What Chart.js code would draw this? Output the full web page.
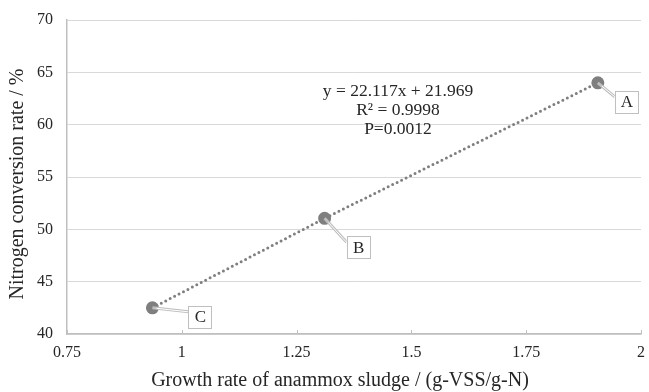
<!DOCTYPE html>
<html>
<head>
<meta charset="utf-8">
<script src="https://cdn.jsdelivr.net/npm/chart.js@4/dist/chart.umd.min.js"></script>
<style>
  html, body { margin: 0; padding: 0; background: #fff; }
  #wrap { width: 649px; height: 392px; }
</style>
</head>
<body>
<div id="wrap"><canvas id="chart" width="649" height="392"></canvas></div>
<script>
/* data */
const sampleLabels = ["C", "B", "A"];
const growthRate   = [0.936, 1.311, 1.906];
const conversion   = [42.5, 51.05, 64.0];
const equationText = ["y = 22.117x + 21.969", "R\u00b2 = 0.9998", "P=0.0012"];
const xTitle = "Growth rate of anammox sludge / (g-VSS/g-N)";
const yTitle = "Nitrogen conversion rate / %";

/* label boxes: offset of each box from its point (px) */
const boxOffsets = { A: [17, 8], B: [22, 18], C: [36, -2] };

const FONT = "'Liberation Serif', 'Times New Roman', serif";
const TEXT = "#262626";

const points = growthRate.map((x, i) => ({ x: x, y: conversion[i] }));

/* -------------------------------
   Annotations: labels, equation, titles, inner ticks
--------------------------------*/
const annotate = {
    id: "annotate",
    afterDatasetsDraw(chart) {
        const ctx = chart.ctx;
        const xs = chart.scales.x, ys = chart.scales.y;
        ctx.save();

        // inward tick marks on x axis
        ctx.strokeStyle = "#bfbfbf";
        ctx.lineWidth = 1;
        xs.ticks.forEach(t => {
            const px = Math.round(xs.getPixelForValue(t.value)) + 0.5;
            ctx.beginPath();
            ctx.moveTo(px, ys.bottom);
            ctx.lineTo(px, ys.bottom - 4);
            ctx.stroke();
        });

        // point labels with leader lines
        ctx.font = "17px " + FONT;
        ctx.textAlign = "center";
        ctx.textBaseline = "middle";
        points.forEach((p, i) => {
            const name = sampleLabels[i];
            const px = xs.getPixelForValue(p.x);
            const py = ys.getPixelForValue(p.y);
            const off = boxOffsets[name];
            const bx = px + off[0], by = py + off[1];
            const bw = 23, bh = 22;

            // leader line (double-stroke look)
            const ly = by + Math.min(bh / 2, 6);
            ctx.strokeStyle = "#bfbfbf";
            ctx.lineWidth = 3;
            ctx.beginPath();
            ctx.moveTo(px, py);
            ctx.lineTo(bx, ly);
            ctx.stroke();
            ctx.strokeStyle = "#ffffff";
            ctx.lineWidth = 1;
            ctx.beginPath();
            ctx.moveTo(px + 4, py + (ly - py) * 4 / (bx - px));
            ctx.lineTo(bx, ly);
            ctx.stroke();

            ctx.fillStyle = "#ffffff";
            ctx.fillRect(bx, by, bw, bh);
            ctx.strokeStyle = "#bfbfbf";
            ctx.lineWidth = 1;
            ctx.strokeRect(Math.round(bx) + 0.5, Math.round(by) + 0.5, bw, bh);
            ctx.fillStyle = TEXT;
            ctx.fillText(name, bx + bw / 2 + 0.5, by + bh / 2 + 1);
        });

        // regression text
        ctx.fillStyle = TEXT;
        ctx.font = "17.5px " + FONT;
        equationText.forEach((line, i) => {
            ctx.fillText(line, 398, 91 + i * 19);
        });

        // axis titles
        ctx.font = "20px " + FONT;
        ctx.fillText(xTitle, 340, 381);
        ctx.translate(18, 184);
        ctx.rotate(-Math.PI / 2);
        ctx.fillText(yTitle, 0, 0);

        ctx.restore();
    }
};

new Chart(document.getElementById("chart").getContext("2d"), {
    type: "scatter",
    data: {
        datasets: [{
            data: points,
            showLine: true,
            borderColor: "#7f7f7f",
            borderWidth: 3,
            borderDash: [0, 5],
            borderCapStyle: "round",
            backgroundColor: "#7f7f7f",
            pointBackgroundColor: "#7f7f7f",
            pointBorderColor: "#7f7f7f",
            pointRadius: 5,
            pointHoverRadius: 5
        }]
    },
    options: {
        responsive: false,
        animation: false,
        layout: { padding: { left: 0, right: 2, top: 20, bottom: 0 } },
        plugins: {
            legend: { display: false },
            tooltip: { enabled: false }
        },
        scales: {
            x: {
                type: "linear",
                min: 0.75,
                max: 2,
                ticks: {
                    stepSize: 0.25,
                    color: TEXT,
                    font: { family: FONT, size: 16 },
                    padding: 9,
                    maxRotation: 0,
                    callback: v => String(+v.toFixed(2))
                },
                grid: { display: false, drawTicks: false },
                border: { display: true, color: "#bfbfbf", width: 1.5 },
                afterFit(scale) {
                    scale.height = 58;
                    scale.paddingLeft = 0;
                    scale.paddingRight = 0;
                }
            },
            y: {
                min: 40,
                max: 70,
                ticks: {
                    stepSize: 5,
                    color: TEXT,
                    font: { family: FONT, size: 16 },
                    padding: 14
                },
                grid: { color: "#d9d9d9", lineWidth: 1, drawTicks: false },
                border: { display: true, color: "#bfbfbf", width: 1.5 },
                afterFit(scale) {
                    scale.width = 67;
                    scale.paddingTop = 0;
                    scale.paddingBottom = 0;
                }
            }
        }
    },
    plugins: [annotate]
});
</script>
</body>
</html>
